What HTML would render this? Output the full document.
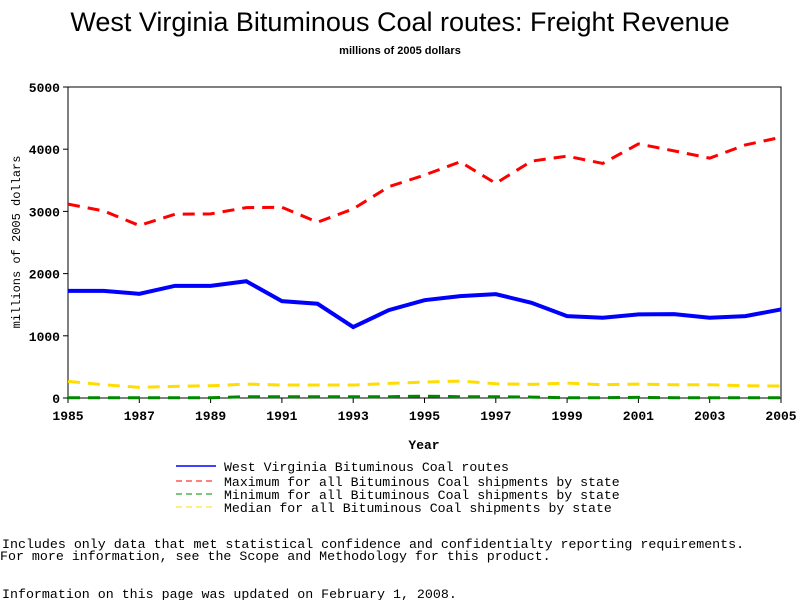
<!DOCTYPE html>
<html><head><meta charset="utf-8"><style>
body{margin:0;background:#fff;width:800px;height:600px;overflow:hidden}
svg text{font-family:"Liberation Mono",monospace}
</style></head><body>
<svg width="800" height="600" xmlns="http://www.w3.org/2000/svg">
<text x="400" y="31" text-anchor="middle" font-size="27" style="font-family:'Liberation Sans',sans-serif">West Virginia Bituminous Coal routes: Freight Revenue</text>
<text x="400" y="54" text-anchor="middle" font-size="11" font-weight="bold" style="font-family:'Liberation Sans',sans-serif">millions of 2005 dollars</text>
<rect x="68" y="87" width="713" height="311" fill="none" stroke="#000"/>
<g id="axes"></g>
<g id="series"></g>
<text x="20" y="242" transform="rotate(-90 20 242)" text-anchor="middle" font-size="12">millions of 2005 dollars</text>
<text x="424" y="449" text-anchor="middle" font-size="13" font-weight="bold">Year</text>
<g font-size="13.2">
<line x1="176" y1="466" x2="216" y2="466" stroke="#00f" stroke-width="1.5"/>
<text x="224" y="471">West Virginia Bituminous Coal routes</text>
<line x1="176" y1="481" x2="216" y2="481" stroke="#f00" stroke-dasharray="6,4"/>
<text x="224" y="486">Maximum for all Bituminous Coal shipments by state</text>
<line x1="176" y1="494" x2="216" y2="494" stroke="#080" stroke-dasharray="6,4"/>
<text x="224" y="499">Minimum for all Bituminous Coal shipments by state</text>
<line x1="176" y1="507" x2="216" y2="507" stroke="#fd0" stroke-dasharray="6,4"/>
<text x="224" y="512">Median for all Bituminous Coal shipments by state</text>
</g>
<g font-size="13.3">
<text x="2" y="548">Includes only data that met statistical confidence and confidentialty reporting requirements.</text>
<text x="0" y="560">For more information, see the Scope and Methodology for this product.</text>
<text x="2" y="598">Information on this page was updated on February 1, 2008.</text>
</g>
</svg>
<script>
const years=[1985,1986,1987,1988,1989,1990,1991,1992,1993,1994,1995,1996,1997,1998,1999,2000,2001,2002,2003,2004,2005];
const wv=[1723,1723,1675,1803,1803,1877,1557,1515,1141,1413,1573,1637,1669,1531,1317,1291,1344,1349,1291,1317,1424];
const maxS=[3117,3008,2773,2955,2960,3061,3067,2827,3040,3397,3584,3797,3451,3808,3888,3771,4085,3973,3856,4069,4192];
const minS=[5,5,5,5,5,20,20,20,20,20,30,20,20,15,5,5,10,5,5,5,5];
const medS=[267,213,171,187,197,224,208,208,208,235,256,272,229,219,240,213,224,213,213,197,192];
const yTicks=[0,1000,2000,3000,4000,5000];
const xTicks=[1985,1987,1989,1991,1993,1995,1997,1999,2001,2003,2005];
const NS='http://www.w3.org/2000/svg';
const X=y=>68+(y-1985)/20*713;
const Y=v=>398-v/5000*311;
const ax=document.getElementById('axes'),sg=document.getElementById('series');
function mk(t,a,p){const e=document.createElementNS(NS,t);for(const k in a)e.setAttribute(k,a[k]);p.appendChild(e);return e;}
yTicks.forEach(v=>{
 const l=mk('line',{x1:63,x2:68,y1:Y(v),y2:Y(v),stroke:'#000'},ax);
 
 
 const t=mk('text',{x:60,y:Y(v)+5,'text-anchor':'end','font-size':13,'font-weight':'bold'},ax);t.textContent=v;
 
 
});
xTicks.forEach(v=>{
 const l=mk('line',{x1:X(v),x2:X(v),y1:398,y2:403,stroke:'#000'},ax);
 
 
 const t=mk('text',{x:X(v),y:420,'text-anchor':'middle','font-size':13,'font-weight':'bold'},ax);t.textContent=v;
 
 
});
function line(vals,color,w,dash,name){
 const p=mk('polyline',{points:vals.map((v,i)=>X(years[i])+','+Y(v)).join(' '),fill:'none',stroke:color,'stroke-width':w,'stroke-dasharray':dash||'none'},sg);
 
 
}
line(medS,'#fd0',3,'12,8','median-line');
line(minS,'#080',3,'12,8','minimum-line');
line(maxS,'#f00',3,'12,8','maximum-line');
line(wv,'#00f',4,null,'west-virginia-line');
</script>
</body></html>
